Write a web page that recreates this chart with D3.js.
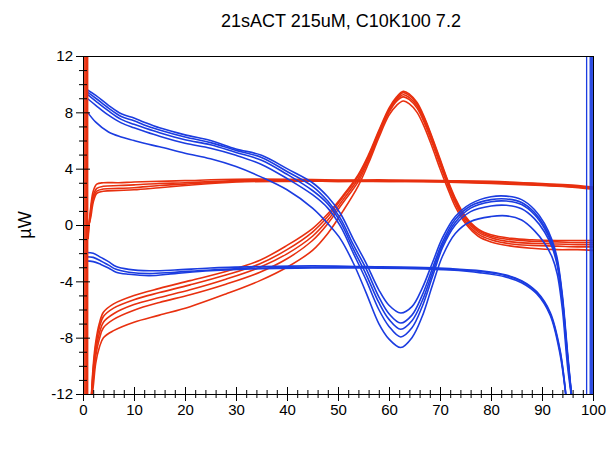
<!DOCTYPE html>
<html><head><meta charset="utf-8">
<script src="https://cdn.jsdelivr.net/npm/d3@7"></script>
<style>
body{margin:0;background:#fff;}
text{font-family:"Liberation Sans",Arial,Helvetica,sans-serif;fill:#000;}
</style></head>
<body>
<script>
const title = "21sACT 215uM, C10K100 7.2";
const yLabel = "µW";
const xMajorTicks = [0,10,20,30,40,50,60,70,80,90,100];
const yMajorTicks = [-12,-8,-4,0,4,8,12];

// Blue descending scans (shared x grid)
const bdX = [0.8,2.5,5,7.5,10,12,15,20,25,30,35,40,45,48,50.5,53,55.5,58,60,62.3,64.5,66.5,68.5,70.5,73,76,80,83,86,88.5,90.5,92,93,94,95,95.9];
const bd1 = [9.6,9.2,8.5,7.9,7.6,7.3,6.9,6.4,6.0,5.4,4.95,4.0,3.0,2.0,0.8,-1.0,-2.7,-4.6,-5.7,-6.25,-5.8,-4.5,-2.7,-0.9,0.6,1.5,2.0,2.05,1.8,1.1,0.1,-1.1,-2.4,-5.0,-9.0,-12.5];
const bd2 = [9.45,9.0,8.3,7.7,7.4,7.1,6.75,6.25,5.85,5.3,4.8,3.8,2.75,1.7,0.45,-1.4,-3.1,-5.1,-6.3,-6.96,-6.4,-5.0,-3.1,-1.2,0.4,1.35,1.8,1.85,1.6,0.9,-0.1,-1.3,-2.6,-5.2,-9.2,-12.5];
const bd3 = [9.3,8.8,8.1,7.5,7.15,6.9,6.55,6.05,5.7,5.15,4.6,3.6,2.45,1.5,0.2,-1.7,-3.5,-5.5,-6.7,-7.4,-6.8,-5.4,-3.4,-1.4,0.2,1.2,1.65,1.7,1.45,0.75,-0.25,-1.4,-2.7,-5.3,-9.3,-12.5];
const bd4 = [9.0,8.5,7.8,7.25,6.9,6.65,6.3,5.8,5.45,4.95,4.3,3.3,2.15,1.2,-0.1,-2.0,-3.9,-6.0,-7.2,-7.95,-7.3,-5.8,-3.7,-1.6,0.0,0.95,1.35,1.4,1.15,0.45,-0.5,-1.6,-2.9,-5.5,-9.5,-12.5];
const bd5 = [8.05,7.3,6.6,6.25,6.0,5.8,5.55,5.1,4.7,4.15,3.4,2.5,1.2,0.1,-1.0,-2.7,-4.8,-7.0,-8.1,-8.7,-8.0,-6.5,-4.3,-2.2,-0.6,0.25,0.6,0.65,0.35,-0.4,-1.3,-2.3,-3.5,-6.0,-10.0,-12.5];

// Blue flat scans
const bfX = [0.5,2,3.5,5,6.5,9,13,18,25,35,45,55,65,72,78,83,86,89,91.6,93.5,94.8];
const bf1 = [-1.95,-2.0,-2.3,-2.6,-2.95,-3.15,-3.25,-3.2,-3.05,-2.95,-2.9,-2.95,-3.0,-3.1,-3.25,-3.55,-3.95,-4.75,-6.2,-8.8,-12.5];
const bf2 = [-2.25,-2.3,-2.55,-2.85,-3.15,-3.35,-3.45,-3.35,-3.2,-3.05,-3.0,-3.0,-3.05,-3.15,-3.3,-3.6,-4.0,-4.8,-6.3,-8.9,-12.5];
const bf3 = [-2.55,-2.6,-2.8,-3.05,-3.35,-3.5,-3.6,-3.45,-3.25,-3.1,-3.05,-3.05,-3.1,-3.2,-3.4,-3.7,-4.1,-4.9,-6.4,-9.1,-12.5];

// Red flat scans
const rfX = [1.0,1.5,2,2.7,4,7,10,15,20,30,40,50,60,70,80,90,95,100];
const rf1 = [-1.0,1.2,2.4,2.9,3.0,3.0,3.05,3.1,3.15,3.25,3.25,3.2,3.2,3.15,3.1,2.95,2.85,2.7];
const rf2 = [-0.7,1.0,2.1,2.6,2.75,2.8,2.85,2.95,3.0,3.15,3.2,3.15,3.15,3.1,3.05,2.9,2.8,2.65];
const rf3 = [-0.4,0.8,1.9,2.4,2.55,2.6,2.65,2.8,2.9,3.1,3.15,3.1,3.1,3.1,3.0,2.85,2.75,2.6];
const rf4 = [-0.2,0.5,1.6,2.25,2.4,2.45,2.5,2.65,2.8,3.05,3.1,3.1,3.1,3.05,2.95,2.8,2.7,2.55];

// Red peak scans
const rpX = [1.6,2.0,2.5,3.2,4,6,10,15,21,28,34.7,40,45,48,51,54,56,58,60,61.5,62.8,64,65.5,67,68.5,70,71.5,73,75,77.5,80,84,88,93,97,100];
const rp1 = [-12.5,-10,-8.3,-7.0,-6.2,-5.6,-5.0,-4.5,-3.95,-3.3,-2.5,-1.45,-0.25,0.8,2.1,3.6,5.0,6.7,8.3,9.1,9.5,9.3,8.7,7.6,6.2,4.7,3.2,1.9,0.6,-0.3,-0.7,-0.95,-1.05,-1.1,-1.1,-1.1];
const rp2 = [-12.5,-10.3,-8.6,-7.3,-6.5,-5.9,-5.3,-4.8,-4.25,-3.55,-2.75,-1.75,-0.5,0.6,2.0,3.5,4.9,6.6,8.2,9.0,9.4,9.2,8.6,7.5,6.1,4.6,3.1,1.8,0.5,-0.4,-0.8,-1.05,-1.15,-1.2,-1.25,-1.25];
const rp3 = [-12.5,-10.6,-8.9,-7.7,-6.9,-6.3,-5.65,-5.15,-4.6,-3.85,-3.0,-2.05,-0.8,0.35,1.8,3.3,4.75,6.5,8.1,8.9,9.25,9.05,8.45,7.35,5.95,4.45,3.0,1.7,0.4,-0.5,-0.9,-1.2,-1.3,-1.35,-1.4,-1.4];
const rp4 = [-12.5,-11,-9.3,-8.1,-7.3,-6.7,-6.05,-5.5,-4.95,-4.2,-3.35,-2.4,-1.1,0.1,1.6,3.1,4.6,6.4,8.0,8.8,9.1,8.9,8.3,7.2,5.8,4.3,2.85,1.55,0.25,-0.65,-1.05,-1.35,-1.45,-1.5,-1.55,-1.55];
const rp5 = [-12.5,-11.5,-9.8,-8.7,-8.0,-7.5,-6.9,-6.4,-5.8,-4.9,-3.95,-3.0,-1.8,-0.6,1.0,2.8,4.4,6.2,7.8,8.5,8.8,8.6,8.0,6.9,5.5,4.0,2.6,1.3,0.1,-0.8,-1.2,-1.5,-1.65,-1.75,-1.75,-1.8];

// Off-scale vertical excursions
const redVertX = [0.15,0.4,0.65,0.9];
const blueVertX = [98.75,99.45,99.65,99.85];
const vertY = [-13,13];

const W = 611, H = 472;
const m = {left:83, top:56, right:18, bottom:78};
const pw = W - m.left - m.right, ph = H - m.top - m.bottom;
const RED = "#e8300f", BLUE = "#1b3ce0";

const svg = d3.select("body").append("svg").attr("width",W).attr("height",H);
const x = d3.scaleLinear().domain([0,100]).range([m.left, m.left+pw]);
const y = d3.scaleLinear().domain([-12,12]).range([m.top+ph, m.top]);

svg.append("defs").append("clipPath").attr("id","clip")
  .append("rect").attr("x",m.left).attr("y",m.top).attr("width",pw).attr("height",ph);

const line = d3.line().x(d=>x(d[0])).y(d=>y(d[1])).curve(d3.curveCatmullRom.alpha(0.5));
const straight = d3.line().x(d=>x(d[0])).y(d=>y(d[1]));
const zipXY = (xs, ys) => xs.map((v,i)=>[v, ys[i]]);

const g = svg.append("g").attr("clip-path","url(#clip)");
const series = [
  [rfX,[rf1,rf2,rf3,rf4],RED],
  [rpX,[rp1,rp2,rp3,rp4,rp5],RED],
  [bfX,[bf1,bf2,bf3],BLUE],
  [bdX,[bd1,bd2,bd3,bd4,bd5],BLUE]
];
series.forEach(([xs, yss, col]) => {
  yss.forEach(ys => {
    g.append("path").attr("d", line(zipXY(xs, ys)))
      .attr("fill","none").attr("stroke",col).attr("stroke-width",1.6)
      .attr("stroke-linejoin","round");
  });
});
redVertX.forEach(v => g.append("path").attr("d", straight(vertY.map(yy=>[v,yy])))
  .attr("stroke",RED).attr("stroke-width",1.6).attr("fill","none"));
blueVertX.forEach(v => g.append("path").attr("d", straight(vertY.map(yy=>[v,yy])))
  .attr("stroke",BLUE).attr("stroke-width",1.3).attr("fill","none"));

// frame: top and right
svg.append("line").attr("x1",m.left).attr("x2",m.left+pw).attr("y1",m.top+0.5).attr("y2",m.top+0.5).attr("stroke","#000");
svg.append("line").attr("x1",m.left+pw+0.5).attr("x2",m.left+pw+0.5).attr("y1",m.top).attr("y2",m.top+ph).attr("stroke","#000");

const fmt = d => String(d);
const xMinor = d3.range(0,101,2).filter(v=>v%10!==0);
const yMinor = d3.range(-12,13,1).filter(v=>v%4!==0);

function styleAxis(sel, hideDomain){
  sel.selectAll("text").style("font-size","15px").style("font-family",'"Liberation Sans",Arial,sans-serif');
  sel.selectAll("line").attr("stroke","#000");
  if(hideDomain) sel.select(".domain").remove();
  else sel.select(".domain").attr("stroke","#000");
}
const gx = svg.append("g").attr("transform",`translate(0,${m.top+ph})`);
gx.append("g").call(d3.axisBottom(x).tickValues(xMajorTicks).tickFormat(fmt).tickSize(7).tickSizeOuter(0).tickPadding(3)).call(s=>styleAxis(s,false));
gx.append("g").call(d3.axisTop(x).tickValues(xMajorTicks).tickFormat("").tickSize(7).tickSizeOuter(0)).call(s=>styleAxis(s,true));
gx.append("g").call(d3.axisBottom(x).tickValues(xMinor).tickFormat("").tickSize(4).tickSizeOuter(0)).call(s=>styleAxis(s,true));
gx.append("g").call(d3.axisTop(x).tickValues(xMinor).tickFormat("").tickSize(4).tickSizeOuter(0)).call(s=>styleAxis(s,true));

const gy = svg.append("g").attr("transform",`translate(${m.left},0)`);
gy.append("g").call(d3.axisLeft(y).tickValues(yMajorTicks).tickFormat(fmt).tickSize(7).tickSizeOuter(0).tickPadding(3)).call(s=>styleAxis(s,false));
gy.append("g").call(d3.axisRight(y).tickValues(yMajorTicks).tickFormat("").tickSize(7).tickSizeOuter(0)).call(s=>styleAxis(s,true));
gy.append("g").call(d3.axisLeft(y).tickValues(yMinor).tickFormat("").tickSize(4).tickSizeOuter(0)).call(s=>styleAxis(s,true));
gy.append("g").call(d3.axisRight(y).tickValues(yMinor).tickFormat("").tickSize(4).tickSizeOuter(0)).call(s=>styleAxis(s,true));

svg.append("text").attr("x", (m.left + m.left+pw)/2 + 3).attr("y", 27)
  .attr("text-anchor","middle").style("font-size","18px").text(title);
svg.append("text").attr("transform",`translate(31,${m.top+ph/2}) rotate(-90)`)
  .attr("text-anchor","middle").style("font-size","18px").text(yLabel);
</script>
</body></html>
